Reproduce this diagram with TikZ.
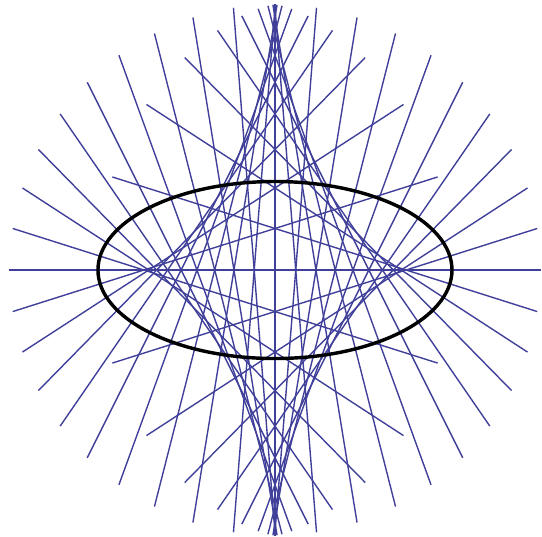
\documentclass[tikz,border=0pt]{standalone}
\usepackage{xcolor}
\usepackage{tikz}
\definecolor{normalblue}{RGB}{64,64,155}
\tikzset{
  normalline/.style={draw=normalblue,line width=0.45pt},
  curveline/.style={draw=black,line width=1.1pt}
}
\begin{document}
\begin{tikzpicture}
\useasboundingbox (-3.107,-3.006) rectangle (3.017,3.051);
% normals of the ellipse, every 9 degrees
\foreach \t in {0,9,...,351} {
  \pgfmathsetmacro{\r}{sqrt(cos(\t)^2+4*sin(\t)^2)}
  \pgfmathsetmacro{\xo}{3*cos(\t)}
  \pgfmathsetmacro{\yo}{3*sin(\t)}
  \pgfmathsetmacro{\xi}{2*cos(\t)-4*cos(\t)/\r}
  \pgfmathsetmacro{\yi}{sin(\t)-8*sin(\t)/\r}
  \coordinate (out\t) at (\xo,\yo);
  \coordinate (in\t) at (\xi,\yi);
  \draw[normalline] (out\t) -- (in\t);
}
% the ellipse
\draw[curveline] (0,0) ellipse [x radius=2, y radius=1];
\end{tikzpicture}
\end{document}
